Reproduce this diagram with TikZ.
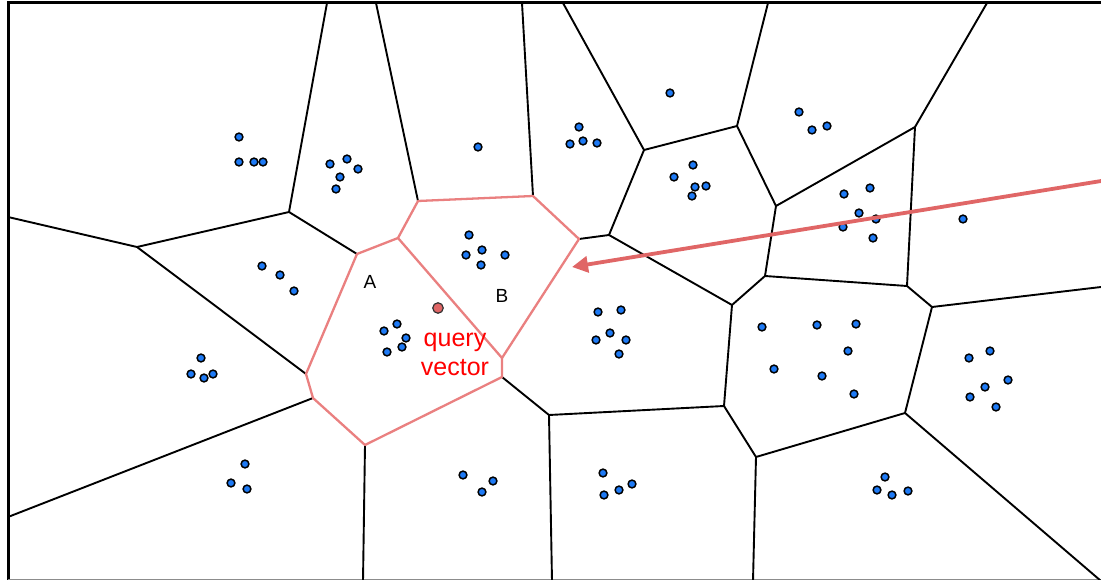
\documentclass[tikz,border=0pt]{standalone}
\usepackage{fontspec}
\setmainfont{Liberation Sans}
\usetikzlibrary{arrows.meta}
\definecolor{dotblue}{RGB}{30,122,245}
\definecolor{qred}{RGB}{224,102,102}
\definecolor{cellred}{RGB}{234,128,128}
\tikzset{
  edge/.style={line width=1.9pt, line cap=round, line join=round, black},
  celledge/.style={line width=2.3pt, line cap=round, line join=round, cellred},
  pt/.style={circle, draw=black, line width=1.5pt, fill=dotblue, inner sep=0pt, minimum size=7.8pt},
  qpt/.style={circle, draw=black!80, line width=1.2pt, fill=qred, inner sep=0pt, minimum size=10.5pt},
  lbl/.style={font=\fontsize{19}{22}\selectfont, text=black},
  qlbl/.style={font=\fontsize{25}{29}\selectfont, text=red, align=center},
  pointer/.style={line width=3.8pt, qred, -{Triangle[length=16pt,width=16pt]}}
}
\begin{document}
\begin{tikzpicture}[x=1pt,y=-1pt]
\useasboundingbox (0,0) rectangle (1101,580);
\fill[white] (0,0) rectangle (1101,580);
% frame points
\coordinate (t1) at (327,3); \coordinate (t2) at (376,3); \coordinate (t3) at (522,3);
\coordinate (t4) at (563,3); \coordinate (t5) at (768,3); \coordinate (t6) at (987,3);
\coordinate (l1) at (8,217); \coordinate (l2) at (8,517);
\coordinate (r1) at (1101,287); \coordinate (br) at (1101,581);
\coordinate (bo1) at (363,581); \coordinate (bo2) at (552,581); \coordinate (bo3) at (753,581);
% vertices
\coordinate (v1) at (137,247); \coordinate (v2) at (289,212);
\coordinate (a1) at (357,254); \coordinate (a2) at (398,238); \coordinate (a3) at (306,374);
\coordinate (a4) at (313,398); \coordinate (a5) at (365,445); \coordinate (a6) at (502,377);
\coordinate (a7) at (502,358);
\coordinate (b1) at (418,201); \coordinate (b2) at (533,196); \coordinate (b3) at (579,239);
\coordinate (c1) at (609,235); \coordinate (c2) at (644,150); \coordinate (c3) at (737,126);
\coordinate (c4) at (776,206); \coordinate (c5) at (915,127); \coordinate (c6) at (765,276);
\coordinate (c7) at (907,286); \coordinate (c8) at (932,307); \coordinate (c9) at (905,413);
\coordinate (c10) at (756,457); \coordinate (c11) at (724,406); \coordinate (c12) at (732,305);
\coordinate (c13) at (549,415);
% frame
\draw[line width=3pt, black] (8,581) -- (8,3) -- (1101,3);
\draw[line width=1pt, black!45] (8,579.5) -- (1101,579.5);
% black cell edges
\draw[edge] (l1) -- (v1) -- (v2) -- (a1);
\draw[edge] (v1) -- (a3);
\draw[edge] (l2) -- (a4);
\draw[edge] (t1) -- (v2);
\draw[edge] (t2) -- (b1);
\draw[edge] (t3) -- (b2);
\draw[edge] (b3) -- (c1) -- (c2) -- (t4);
\draw[edge] (c2) -- (c3) -- (t5);
\draw[edge] (c3) -- (c4) -- (c5) -- (t6);
\draw[edge] (c5) -- (c7) -- (c8) -- (r1);
\draw[edge] (c8) -- (c9) -- (br);
\draw[edge] (c9) -- (c10) -- (bo3);
\draw[edge] (c10) -- (c11) -- (c12) -- (c6) -- (c4);
\draw[edge] (c6) -- (c7);
\draw[edge] (c12) -- (c1);
\draw[edge] (c11) -- (c13) -- (bo2);
\draw[edge] (c13) -- (a6);
\draw[edge] (a5) -- (bo1);
% highlighted cells
\draw[celledge] (a2) -- (a1) -- (a3) -- (a4) -- (a5) -- (a6) -- (a7) -- cycle;
\draw[celledge] (a2) -- (b1) -- (b2) -- (b3) -- (a7);
% points
\foreach \x/\y [count=\i] in {
 239/137, 239/162, 254/162, 263/162,
 262/266, 280/275, 294/291,
 330/164, 347/159, 358/169, 340/177, 336/189,
 478/147,
 469/235, 482/250, 466/255, 481/265, 505/255,
 670/93,
 579/127, 583/141, 570/144, 597/143,
 693/165, 674/177, 695/187, 706/186, 692/196,
 799/112, 812/130, 827/126,
 844/194, 870/188, 859/213, 876/219, 843/227, 873/238,
 963/219,
 201/358, 191/374, 204/378, 213/374,
 245/464, 231/483, 247/489,
 384/331, 397/324, 406/338, 402/347, 387/352,
 463/475, 493/481, 482/492,
 598/312, 621/310, 610/333, 596/340, 626/340, 619/354,
 603/473, 632/484, 619/490, 604/495,
 762/327, 774/369, 817/325, 856/324, 848/351, 822/376, 854/394,
 969/358, 990/351, 1008/380, 985/387, 970/397, 996/407,
 885/477, 877/490, 892/495, 908/491}
 \node[pt] (d\i) at (\x,\y) {};
\node[qpt] (q) at (438,308) {};
% labels
\node[lbl] (la) at (370,282) {A};
\node[lbl] (lb) at (502,296) {B};
\node[qlbl] (ql) at (455,354) {query\\vector};
% pointer arrow
\coordinate (arrS) at (1103,180.7);
\coordinate (arrE) at (572,267);
\draw[pointer] (arrS) -- (arrE);
\end{tikzpicture}
\end{document}
